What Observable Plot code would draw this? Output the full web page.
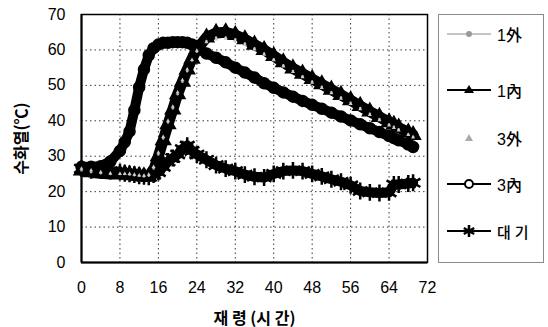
<!DOCTYPE html>
<html>
<head>
<meta charset="utf-8">
<script src="https://cdn.jsdelivr.net/npm/d3@7"></script>
<script src="https://cdn.jsdelivr.net/npm/@observablehq/plot@0.6"></script>
<style>
  body { margin: 0; background: #fff; }
  #wrap { position: relative; width: 548px; height: 327px; overflow: hidden; }
  #legend { position: absolute; left: 438px; top: 14px; width: 106px; height: 249px;
            border: 1px solid #8a8a8a; box-sizing: border-box; background: #fff; }
  .item { position: absolute; left: 8px; height: 20px; display: flex; align-items: center; }
  .item span { font-family: "Liberation Sans", "Noto Sans CJK KR", sans-serif; font-size: 16px; margin-left: 4px; color: #000; font-weight: 500; }
</style>
</head>
<body>
<div id="wrap"></div>
<script>
// hours (재령)
const hours = [0,2,4,6,8,9,10,11,12,13,14,15,16,17,18,19,20,21,22,23,24,26,28,30,32,34,36,38,40,42,44,46,48,50,52,54,56,58,60,62,64,65,66,68,69];
const seriesNames = ["1外", "1內", "3外", "3內", "대기"];
const out1 = [26,25.5,25.2,25,25,25,24.8,24.6,24.5,24.3,24.5,26.5,30.5,35,39.5,43.5,47.5,51,54,57,59.5,62.5,63.5,63.5,63,61.8,60.5,59,57.4,55.7,54.1,52.6,51.1,49.6,48.1,46.6,45.1,43.6,42,40.5,39,38.3,37.6,36.2,35.5];
const in1  = [26,25.5,25.2,25,25,25,24.8,24.6,24.5,24.3,24.3,26,30,34.5,39,43.2,47.5,51,54.5,57.5,60.2,63.5,64.8,65,64.2,63,61.5,60,58.3,56.5,54.8,53.3,51.8,50.3,48.8,47.3,45.8,44.2,42.6,41.1,39.6,38.9,38.1,36.7,36];
const out3 = [26.5,26,25.5,25.2,25,25,25,24.8,24.6,24.5,24.8,27,31,35.5,40,44,48,51.5,54.5,57.2,59.8,62.2,63,63.2,62.6,61.5,60.2,58.7,57.1,55.4,53.8,52.3,50.8,49.3,47.8,46.3,44.8,43.3,41.7,40.2,38.7,38,37.3,36,35.3];
const in3  = [27,27,27.2,28.5,31.5,34,37,43,49.5,54.5,58.5,60.5,61.5,62,62,62.2,62.2,62.2,62,61.5,60.5,59,57.8,56.5,55,53.6,52.2,50.6,49.3,48,46.8,45.6,44.5,43.4,42.3,41.2,40.1,39,37.9,36.8,35.7,35.1,34.5,33.3,32.6];
const air  = [26.5,26,26,25.8,25.5,25.2,25,24.8,24.5,24.3,24.2,24.8,25.5,27,28.5,29.5,30.5,32,33,31.5,30.5,29,27.5,26.5,25.8,24.8,24.2,24,25,25.8,26,25.8,25,24.3,23.5,22.8,21.8,20.2,19.8,19.6,19.8,22,22,22.3,22.5];
const xTicks = [0,8,16,24,32,40,48,56,64,72];
const yTicks = [0,10,20,30,40,50,60,70];

const toRows = (vals) => hours.map((h, i) => ({h, v: vals[i]}));
const d1o = toRows(out1), d1i = toRows(in1), d3o = toRows(out3), d3i = toRows(in3), dair = toRows(air);

const chart = Plot.plot({
  width: 548, height: 327,
  marginLeft: 81, marginRight: 121, marginTop: 14, marginBottom: 65,
  style: {fontFamily: "Liberation Sans, Arial, sans-serif", fontSize: "16px", color: "#000", background: "#fff"},
  x: {domain: [0, 72]},
  y: {domain: [0, 70]},
  marks: [
    Plot.gridX(xTicks, {stroke: "#222", strokeOpacity: 0.9, strokeDasharray: "1.5,3"}),
    Plot.gridY(yTicks, {stroke: "#222", strokeOpacity: 0.9, strokeDasharray: "1.5,3"}),
    Plot.frame({stroke: "#000", strokeWidth: 1.5}),
    Plot.ruleX([0], {stroke: "#000", strokeWidth: 2}),
    Plot.ruleY([0], {stroke: "#000", strokeWidth: 2}),
    Plot.axisX({ticks: xTicks, tickSize: 0, tickPadding: 19, label: null}),
    Plot.axisY({ticks: yTicks, tickSize: 0, tickPadding: 16, label: null}),
    Plot.axisX({ticks: [], tickSize: 0, label: "재 령 (시 간)", labelAnchor: "center", labelOffset: 61, labelArrow: "none",
                fontFamily: "Noto Sans CJK KR", fontSize: 16, fontWeight: "bold"}),
    Plot.axisY({ticks: [], tickSize: 0, label: "수화열(℃)", labelAnchor: "center", labelOffset: 66, labelArrow: "none",
                fontFamily: "Noto Sans CJK KR", fontSize: 16, fontWeight: "bold"}),
    // air
    Plot.line(dair, {x: "h", y: "v", stroke: "#000", strokeWidth: 10, curve: "linear"}),
    Plot.dot(dair, {x: "h", y: "v", symbol: "asterisk", r: 8, stroke: "#000", strokeWidth: 2.5}),
    // 3內
    Plot.line(d3i, {x: "h", y: "v", stroke: "#000", strokeWidth: 10}),
    Plot.dot(d3i, {x: "h", y: "v", r: 5, fill: "none", stroke: "#000", strokeWidth: 2.5}),
    // 1外, 3外 gray (mostly beneath)
    Plot.line(d1o, {x: "h", y: "v", stroke: "#999", strokeWidth: 0.8}),
    // 1內
    Plot.line(d1i, {x: "h", y: "v", stroke: "#000", strokeWidth: 11}),
    Plot.dot(d1i, {x: "h", y: "v", symbol: "triangle", r: 5.5, fill: "#000", stroke: "#000", strokeWidth: 1.5}),
    Plot.dot(d1o, {x: "h", y: "v", r: 1.2, fill: "#bbb"}),
    Plot.dot(d3o, {x: "h", y: "v", symbol: "triangle", r: 1.5, fill: "#ccc"})
  ]
});

const wrap = document.getElementById("wrap");
wrap.appendChild(chart);

// legend
const legend = document.createElement("div");
legend.id = "legend";
const legendY = [9, 65, 113, 159, 206];
const ns = "http://www.w3.org/2000/svg";
seriesNames.forEach((name, i) => {
  const item = document.createElement("div");
  item.className = "item";
  item.style.top = legendY[i] + "px";
  const svg = document.createElementNS(ns, "svg");
  svg.setAttribute("width", 46); svg.setAttribute("height", 20);
  let inner = "";
  if (name === "1外") inner = '<line x1="0" y1="10" x2="44" y2="10" stroke="#888" stroke-width="1"/><circle cx="22" cy="10" r="3" fill="#999"/>';
  if (name === "1內") inner = '<line x1="0" y1="10" x2="44" y2="10" stroke="#000" stroke-width="2"/><path d="M22,5 L27,13 L17,13 Z" fill="#000"/>';
  if (name === "3外") inner = '<path d="M22,6 L26,13 L18,13 Z" fill="#aaa"/>';
  if (name === "3內") inner = '<line x1="0" y1="10" x2="44" y2="10" stroke="#000" stroke-width="2"/><circle cx="22" cy="10" r="4" fill="#fff" stroke="#000" stroke-width="2"/>';
  if (name === "대기") inner = '<line x1="0" y1="10" x2="44" y2="10" stroke="#000" stroke-width="2"/><path d="M22,4 L22,16 M16.8,7 L27.2,13 M16.8,13 L27.2,7" stroke="#000" stroke-width="2.5"/>';
  svg.innerHTML = inner;
  item.appendChild(svg);
  const t = document.createElement("span");
  t.textContent = name;
  if (name === "대기") { t.style.letterSpacing = "4px"; t.style.fontFamily = "Noto Sans CJK KR"; t.style.fontSize = "15px"; }
  item.appendChild(t);
  legend.appendChild(item);
});
wrap.appendChild(legend);
</script>
</body>
</html>
